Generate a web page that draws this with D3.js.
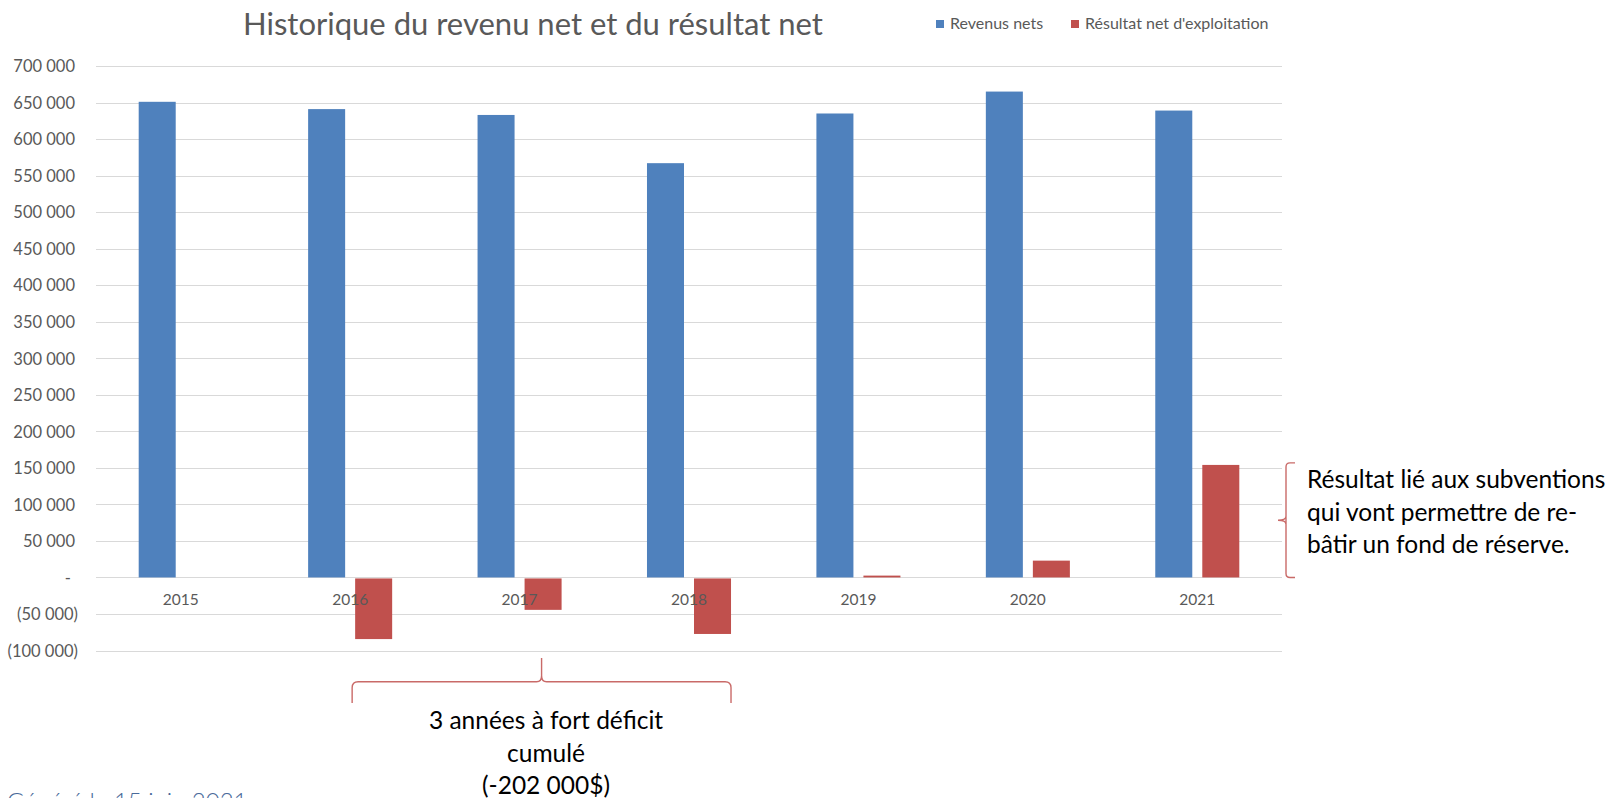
<!DOCTYPE html>
<html>
<head>
<meta charset="utf-8">
<script src="https://cdn.jsdelivr.net/npm/d3@7"></script>
<style>
  html, body { margin: 0; padding: 0; background: #fff; overflow: hidden; }
  svg { display: block; font-family: Lato, "Open Sans", sans-serif; }
</style>
</head>
<body>
<div id="chart"></div>
<script>
(function () {
  'use strict';

  var years = ['2015', '2016', '2017', '2018', '2019', '2020', '2021'];
  var revenus = [651000, 641000, 633000, 567000, 635000, 665000, 639000];
  var resultat = [0, -83000, -43000, -76000, 2500, 23000, 154000];
  var seriesNames = ['Revenus nets', "Résultat net d'exploitation"];
  var seriesColors = ['#4F81BD', '#C0504D'];
  var yTicks = [-100000, -50000, 0, 50000, 100000, 150000, 200000, 250000, 300000, 350000, 400000, 450000, 500000, 550000, 600000, 650000, 700000];
  var title = 'Historique du revenu net et du résultat net';
  var noteBottom = ['3 années à fort déficit', 'cumulé', '(-202 000$)'];
  var noteRight = ['Résultat lié aux subventions', 'qui vont permettre de re-', 'bâtir un fond de réserve.'];
  var footer = 'Généré le 15 juin 2021';

  var width = 1614, height = 798;
  var plot = { left: 96, right: 1282, top: 66, bottom: 650.5 };

  var svg = d3.select('#chart').append('svg').attr('width', width).attr('height', height);

  var x0 = d3.scaleBand().domain(years).range([plot.left, plot.right]).paddingInner(0.504).paddingOuter(0.252);
  var x1 = d3.scaleBand().domain([0, 1]).range([0, x0.bandwidth()]).paddingInner(0.2128);
  var y = d3.scaleLinear().domain([-100000, 700000]).range([plot.bottom, plot.top]);

  var fr = d3.formatLocale({ decimal: ',', thousands: '\u00a0', grouping: [3], currency: ['', '$'] });
  var fmt = fr.format(',.0f');
  function tickLabel(d) {
    if (d === 0) return '-';
    if (d < 0) return '(' + fmt(-d) + ')';
    return fmt(d);
  }

  // Gridlines
  svg.append('g').selectAll('line').data(yTicks).enter().append('line')
    .attr('x1', plot.left).attr('x2', plot.right)
    .attr('y1', function (d) { return Math.round(y(d)) + 0.5; })
    .attr('y2', function (d) { return Math.round(y(d)) + 0.5; })
    .attr('stroke', '#D9D9D9').attr('stroke-width', 1.2);

  // Y axis labels
  var yAxis = svg.append('g').attr('transform', 'translate(75,0)')
    .call(d3.axisLeft(y).tickValues(yTicks).tickSize(0).tickPadding(0).tickFormat(tickLabel));
  yAxis.select('.domain').remove();
  yAxis.selectAll('text')
    .attr('fill', '#595959').attr('font-size', '16.5px').attr('font-family', 'Lato, sans-serif')
    .attr('dy', '0.35em')
    .attr('x', function (d) { return d < 0 ? 3 : (d === 0 ? -4 : 0); });

  // Bars
  var groups = svg.append('g').selectAll('g').data(years).enter().append('g')
    .attr('transform', function (d) { return 'translate(' + x0(d) + ',0)'; });

  groups.append('rect')
    .attr('x', x1(0)).attr('width', x1.bandwidth())
    .attr('y', function (d, i) { return y(revenus[i]); })
    .attr('height', function (d, i) { return y(0) - y(revenus[i]); })
    .attr('fill', seriesColors[0]);

  groups.append('rect')
    .attr('x', x1(1)).attr('width', x1.bandwidth())
    .attr('y', function (d, i) { return resultat[i] >= 0 ? y(resultat[i]) : y(0) + 1; })
    .attr('height', function (d, i) { return Math.abs(y(0) - y(resultat[i])); })
    .attr('fill', seriesColors[1]);

  // Category labels (drawn over the bars, like the original)
  var xAxis = svg.append('g').attr('transform', 'translate(0,' + y(0) + ')')
    .call(d3.axisBottom(x0).tickSize(0).tickPadding(0));
  xAxis.select('.domain').remove();
  xAxis.selectAll('text')
    .attr('fill', '#595959').attr('font-size', '15.5px').attr('font-family', 'Lato, sans-serif')
    .attr('y', 27.5).attr('dy', 0);

  // Title
  svg.append('text').attr('x', 533).attr('y', 35).attr('text-anchor', 'middle')
    .attr('fill', '#595959').attr('font-size', '31px').text(title);

  // Legend
  var legendX = [936, 1071];
  seriesNames.forEach(function (name, i) {
    svg.append('rect').attr('x', legendX[i]).attr('y', 20).attr('width', 8).attr('height', 8).attr('fill', seriesColors[i]);
    svg.append('text').attr('x', legendX[i] + 14).attr('y', 29).attr('fill', '#595959')
      .attr('font-size', '16px').text(name);
  });

  // Bottom brace over the 2016-2018 deficits
  var bx0 = x0('2016') + x1(1) - 3;
  var bx1 = x0('2018') + x1(1) + x1.bandwidth();
  var bm = (bx0 + bx1) / 2;
  var bTop = 658, bMid = 681.7, bEnd = 703;
  svg.append('path')
    .attr('d', 'M' + bx0 + ',' + bEnd + ' L' + bx0 + ',' + (bMid + 6) + ' Q' + bx0 + ',' + bMid + ' ' + (bx0 + 6) + ',' + bMid +
      ' L' + (bm - 5) + ',' + bMid + ' Q' + bm + ',' + bMid + ' ' + bm + ',' + (bMid - 6) + ' L' + bm + ',' + bTop +
      ' M' + bm + ',' + (bMid - 6) + ' Q' + bm + ',' + bMid + ' ' + (bm + 5) + ',' + bMid +
      ' L' + (bx1 - 6) + ',' + bMid + ' Q' + bx1 + ',' + bMid + ' ' + bx1 + ',' + (bMid + 6) + ' L' + bx1 + ',' + bEnd)
    .attr('fill', 'none').attr('stroke', '#C0504D').attr('stroke-opacity', 0.85).attr('stroke-width', 1.4);

  svg.append('g').selectAll('text').data(noteBottom).enter().append('text')
    .attr('x', 546).attr('y', function (d, i) { return 729.3 + i * 32.4; })
    .attr('text-anchor', 'middle').attr('fill', '#000').attr('font-size', '24.5px').text(function (d) { return d; });

  // Right brace alongside the 2021 result
  var rTop = y(resultat[6]) - 2, rBot = y(0);
  var rMid = (rTop + rBot) / 2;
  var rx = 1286, rHook = 1295, rTip = 1278;
  svg.append('path')
    .attr('d', 'M' + rHook + ',' + rTop + ' L' + (rx + 4) + ',' + rTop + ' Q' + rx + ',' + rTop + ' ' + rx + ',' + (rTop + 4) +
      ' L' + rx + ',' + (rMid - 4) + ' Q' + rx + ',' + rMid + ' ' + rTip + ',' + rMid +
      ' M' + rx + ',' + (rMid + 4) + ' Q' + rx + ',' + rMid + ' ' + rTip + ',' + rMid +
      ' M' + rx + ',' + (rMid - 4) + ' L' + rx + ',' + (rBot - 4) + ' Q' + rx + ',' + rBot + ' ' + (rx + 4) + ',' + rBot + ' L' + rHook + ',' + rBot)
    .attr('fill', 'none').attr('stroke', '#C0504D').attr('stroke-opacity', 0.85).attr('stroke-width', 1.4);

  svg.append('g').selectAll('text').data(noteRight).enter().append('text')
    .attr('x', 1307).attr('y', function (d, i) { return 488.3 + i * 32.4; })
    .attr('fill', '#000').attr('font-size', '24.5px').text(function (d) { return d; });

  // Footer, cut by the bottom edge as in the original
  svg.append('text').attr('x', 7).attr('y', 810).attr('fill', '#4A6A9A')
    .attr('font-size', '24px').attr('font-weight', 300).text(footer);
})();
</script>
</body>
</html>
